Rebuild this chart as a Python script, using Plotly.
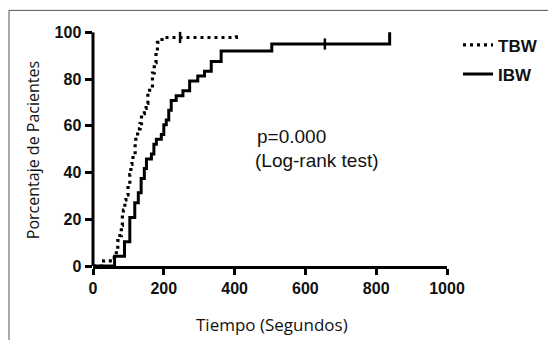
import plotly.graph_objects as go

# ---- data ----
tbw_time = [0, 30, 60, 66, 70, 76, 80, 83, 86, 90, 93, 99, 104, 107, 110, 113, 119, 121, 126,
            133, 137, 145, 150, 155, 160, 168, 173, 178, 182, 195, 405]
tbw_pct = [0, 2.2, 4.4, 6.6, 10.9, 13, 17.4, 21.7, 23.9, 28.3, 30.4, 34.8, 39.1, 43.5, 45.7,
           47.8, 52.2, 56.5, 58.7, 60.9, 65.2, 67.4, 69.6, 73.9, 76.1, 82.6, 87, 91.3, 95.7,
           97.8, 100]
tbw_censor_time = [246]
tbw_censor_pct = [97.8]

ibw_time = [0, 61, 89, 104, 118, 128, 136, 145, 151, 165, 172, 179, 193, 200, 207, 214, 221,
            235, 254, 273, 296, 315, 334, 362, 505, 838]
ibw_pct = [0, 4.2, 10.4, 20.8, 27.1, 31.3, 37.5, 41.7, 45.8, 47.9, 52.1, 54.2, 56.3, 60.4,
           62.5, 66.7, 70.8, 72.9, 75, 79.2, 81.3, 83.3, 87.5, 92, 95, 100]
ibw_censor_time = [655]
ibw_censor_pct = [95]

x_ticks = [0, 200, 400, 600, 800, 1000]
y_ticks = [0, 20, 40, 60, 80, 100]
y_max = 104

# ---- layout geometry ----
W, H = 548, 340
Y0_PX, Y100_PX = 266, 32
PX_PER_PCT = (Y0_PX - Y100_PX) / 100
L, R, B = 93, 101, H - Y0_PX
T = Y0_PX - PX_PER_PCT * y_max
PW, PH = W - L - R, H - T - B


def px2x(px):
    return (px - L) / PW


def py2y(py):
    return (H - B - py) / PH


fig = go.Figure()
fig.add_trace(go.Scatter(x=tbw_time, y=tbw_pct, mode="lines", name="TBW", legendgroup="a",
                         line=dict(color="black", width=3.2, dash="3px,4px", shape="hv")))
fig.add_trace(go.Scatter(x=ibw_time, y=ibw_pct, mode="lines", name="IBW", legendgroup="b",
                         line=dict(color="black", width=3, shape="hv")))
fig.add_trace(go.Scatter(x=tbw_censor_time, y=tbw_censor_pct, mode="markers", showlegend=False,
                         marker=dict(symbol="line-ns", size=8, line=dict(color="black", width=2.5))))
fig.add_trace(go.Scatter(x=ibw_censor_time, y=ibw_censor_pct, mode="markers", showlegend=False,
                         marker=dict(symbol="line-ns", size=8, line=dict(color="black", width=2.5))))

tickfont = dict(family="Liberation Sans, Arial, sans-serif", size=16, color="#111", weight="bold")
fig.update_xaxes(range=[0, 1000], tickvals=x_ticks, ticktext=[str(v) for v in x_ticks],
                 showline=True, linecolor="black", linewidth=3, ticks="outside", ticklen=6,
                 tickwidth=2.5, tickcolor="black", showgrid=False, zeroline=False,
                 tickfont=tickfont)
fig.update_yaxes(range=[0, y_max], tickvals=y_ticks, ticktext=[str(v) for v in y_ticks],
                 showline=False, ticks="outside", ticklen=7.5,
                 tickwidth=2.5, tickcolor="black", showgrid=False, zeroline=False,
                 tickfont=tickfont)

labfont = dict(family="Open Sans, sans-serif", size=16, color="#111")
annots = [
    dict(text="Porcentaje de Pacientes", x=px2x(33), y=py2y(150), textangle=-90,
         font=labfont),
    dict(text="Tiempo (Segundos)", x=px2x(272), y=py2y(325),
         font=dict(family="Open Sans, sans-serif", size=17, color="#111")),
    dict(text="p=0.000", x=px2x(255), y=py2y(136), xanchor="left",
         font=dict(family="Liberation Sans, Arial, sans-serif", size=19, color="#111")),
    dict(text="(Log-rank test)", x=px2x(253), y=py2y(160), xanchor="left",
         font=dict(family="Liberation Sans, Arial, sans-serif", size=19, color="#111")),
]
for a in annots:
    a.update(xref="paper", yref="paper", showarrow=False)
    a.setdefault("xanchor", "center")
    a.setdefault("yanchor", "middle")

fig.update_layout(
    width=W, height=H, margin=dict(l=L, r=R, t=T, b=B, autoexpand=False),
    plot_bgcolor="white", paper_bgcolor="white",
    annotations=annots,
    showlegend=True,
    legend=dict(x=px2x(458), y=py2y(27), xanchor="left", yanchor="top",
                font=dict(family="Liberation Sans, Arial, sans-serif", size=17, color="#111",
                          weight="bold"),
                bgcolor="rgba(0,0,0,0)", itemwidth=30, tracegroupgap=4),
    shapes=[
        # y axis line spanning only 0..100
        dict(type="line", xref="paper", yref="y", x0=0, x1=0, y0=0, y1=y_ticks[-1],
             line=dict(color="black", width=3), layer="above"),
        # outer frame of the figure
        dict(type="line", xref="paper", yref="paper", x0=px2x(9), x1=px2x(560),
             y0=py2y(10), y1=py2y(10), line=dict(color="#555", width=1)),
        dict(type="line", xref="paper", yref="paper", x0=px2x(9), x1=px2x(9),
             y0=py2y(10), y1=py2y(350), line=dict(color="#555", width=1)),
    ],
)

fig.write_html("out.html", config={"displayModeBar": False},
               post_script="document.body.style.margin='0';document.body.style.overflow='hidden';")
